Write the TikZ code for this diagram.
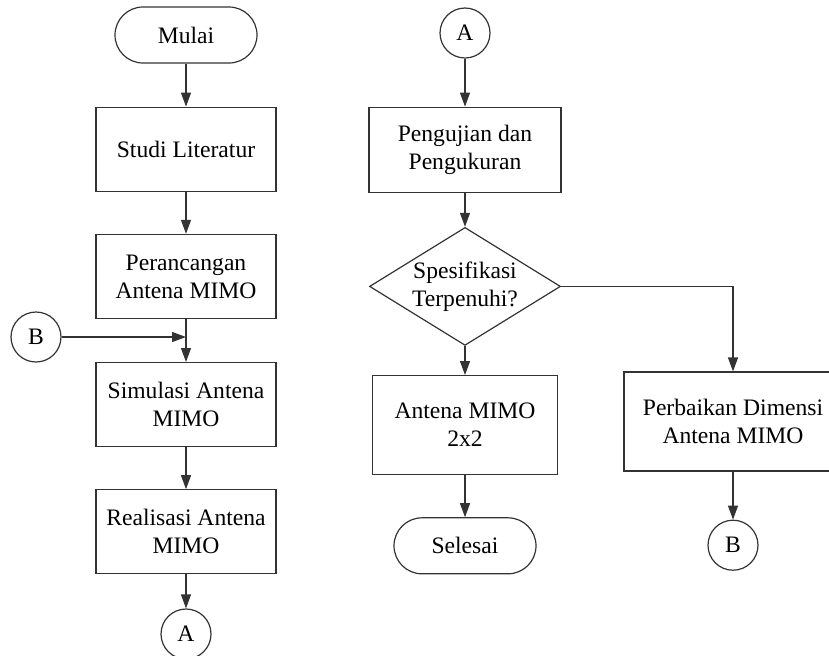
\documentclass[tikz,border=0pt]{standalone}
\usepackage{fontspec}
\setmainfont{Liberation Serif}
\usetikzlibrary{positioning, arrows.meta, shapes.geometric}

\begin{document}
\begin{tikzpicture}[
  x=1pt, y=1pt,
  node distance=21pt and 2cm,
  base/.style={draw=black!80, line width=0.6pt, font=\fontsize{11.8}{14}\selectfont},
  process/.style={base, rectangle, minimum width=90pt, minimum height=42pt, align=center, inner sep=2pt},
  terminal/.style={base, rectangle, rounded corners=14pt, minimum width=71pt, minimum height=28pt},
  connector/.style={base, circle, minimum size=25pt, inner sep=0pt},
  decision/.style={base, diamond, aspect=1.62, minimum width=95.5pt, minimum height=59pt, align=center, inner sep=0pt},
  arrow/.style={-{Triangle[length=7pt,width=5pt]}, line width=0.6pt, draw=black!80}
]
\clip (0,0) rectangle (414.5,-327.5);

% kolom kiri
\node[terminal] (mulai) at (93,-17.5) {Mulai};
\node[process, below=21.5pt of mulai] (studi) {Studi Literatur};
\node[process, below=of studi] (rancang) {Perancangan\\Antena MIMO};
\node[process, below=21.5pt of rancang] (simulasi) {Simulasi Antena\\MIMO};
\node[process, below=of simulasi] (realisasi) {Realisasi Antena\\MIMO};
\node[connector, below=17pt of realisasi] (conA) {A};
\node[connector] (conB) at (18,-168.5) {B};

% kolom kanan
\node[connector] (conA2) at (232.5,-16.5) {A};
\node[process, minimum width=96pt, minimum height=42.5pt, below=24pt of conA2] (uji) {Pengujian dan\\Pengukuran};
\node[decision, below=17pt of uji] (spek) {Spesifikasi\\Terpenuhi?};
\node[process, minimum width=92.5pt, minimum height=49.5pt, below=14.5pt of spek] (hasil) {Antena MIMO\\2x2};
\node[terminal, below=of hasil] (selesai) {Selesai};
\node[process, minimum width=109pt, minimum height=49.5pt] (perbaikan) at (366.5,-210.75) {Perbaikan Dimensi\\Antena MIMO};
\node[connector, below=24pt of perbaikan] (conB2) {B};

\draw[arrow] (mulai) -- (studi);
\draw[arrow] (studi) -- (rancang);
\draw[arrow] (rancang) -- (simulasi);
\draw[arrow] (conB) -- (conB -| rancang.south);
\draw[arrow] (simulasi) -- (realisasi);
\draw[arrow] (realisasi) -- (conA);

\draw[arrow] (conA2) -- (uji);
\draw[arrow] (uji) -- (spek);
\draw[arrow] (spek) -- (hasil);
\draw[arrow] (hasil) -- (selesai);
\draw[arrow] (spek.east) -| (perbaikan.north);
\draw[arrow] (perbaikan) -- (conB2);
\end{tikzpicture}
\end{document}
